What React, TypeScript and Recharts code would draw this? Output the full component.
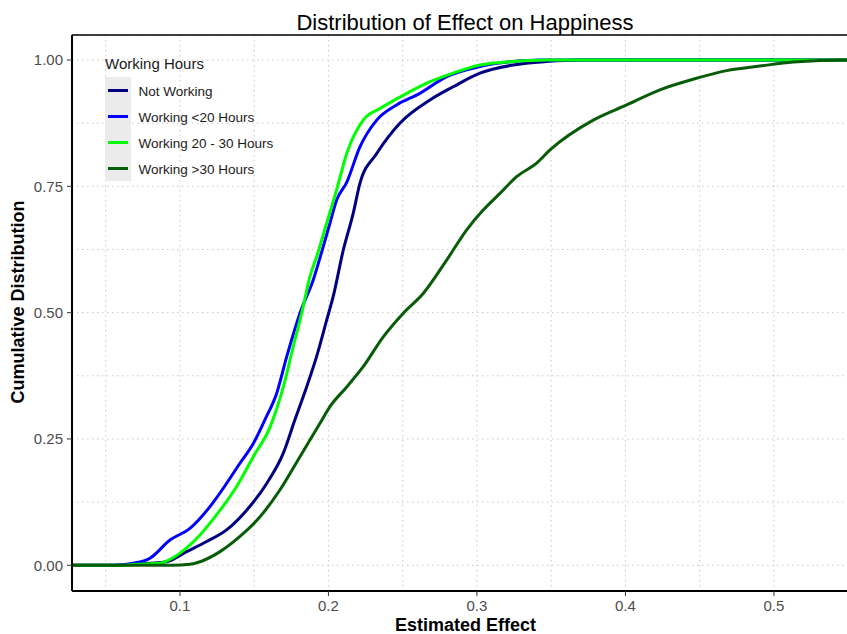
import {
  LineChart,
  Line,
  XAxis,
  YAxis,
  CartesianGrid,
  ReferenceLine,
  Customized,
} from "recharts";

const FONT = "'Liberation Sans', Arial, Helvetica, sans-serif";

// x ticks / grid positions
const xTicks = [0.1, 0.2, 0.3, 0.4, 0.5];
const xGridTicks = [0.05, 0.1, 0.15, 0.2, 0.25, 0.3, 0.35, 0.4, 0.45, 0.5, 0.55];
const yTicks = [0, 0.25, 0.5, 0.75, 1];
const yGridTicks = [0, 0.125, 0.25, 0.375, 0.5, 0.625, 0.75, 0.875, 1];

const xDomain = [0.0273, 0.5492];
const yDomain = [-0.0509, 1.0495];

// cumulative distributions
const notWorking = [
  { x: 0.02, y: 0 }, { x: 0.055, y: 0 }, { x: 0.07, y: 0.002 }, { x: 0.08, y: 0.004 },
  { x: 0.091, y: 0.007 }, { x: 0.1045, y: 0.027 }, { x: 0.118, y: 0.047 }, { x: 0.1314, y: 0.07 },
  { x: 0.1449, y: 0.109 }, { x: 0.1584, y: 0.162 }, { x: 0.1696, y: 0.222 }, { x: 0.1774, y: 0.288 },
  { x: 0.1853, y: 0.353 }, { x: 0.192, y: 0.413 }, { x: 0.1988, y: 0.485 }, { x: 0.2032, y: 0.532 },
  { x: 0.21, y: 0.624 }, { x: 0.2167, y: 0.697 }, { x: 0.2212, y: 0.756 }, { x: 0.2325, y: 0.815 },
  { x: 0.2481, y: 0.875 }, { x: 0.2684, y: 0.921 }, { x: 0.284, y: 0.947 }, { x: 0.302, y: 0.974 },
  { x: 0.3244, y: 0.99 }, { x: 0.3469, y: 0.997 }, { x: 0.3694, y: 1 }, { x: 0.56, y: 1 },
];

const under20 = [
  { x: 0.02, y: 0 }, { x: 0.055, y: 0 }, { x: 0.0686, y: 0.004 }, { x: 0.0798, y: 0.014 },
  { x: 0.0933, y: 0.05 }, { x: 0.1067, y: 0.073 }, { x: 0.1202, y: 0.116 }, { x: 0.1314, y: 0.162 },
  { x: 0.1404, y: 0.202 }, { x: 0.1494, y: 0.241 }, { x: 0.1572, y: 0.288 }, { x: 0.1651, y: 0.34 },
  { x: 0.1719, y: 0.413 }, { x: 0.1808, y: 0.499 }, { x: 0.1898, y: 0.565 }, { x: 0.1965, y: 0.631 },
  { x: 0.201, y: 0.677 }, { x: 0.2055, y: 0.723 }, { x: 0.2123, y: 0.758 }, { x: 0.2212, y: 0.828 },
  { x: 0.2325, y: 0.881 }, { x: 0.2459, y: 0.911 }, { x: 0.2616, y: 0.934 }, { x: 0.2796, y: 0.967 },
  { x: 0.302, y: 0.987 }, { x: 0.3244, y: 0.997 }, { x: 0.3424, y: 1 }, { x: 0.56, y: 1 },
];

const between20and30 = [
  { x: 0.02, y: 0 }, { x: 0.06, y: 0 }, { x: 0.07, y: 0.002 }, { x: 0.0865, y: 0.004 },
  { x: 0.0899, y: 0.007 }, { x: 0.1, y: 0.024 }, { x: 0.1135, y: 0.06 }, { x: 0.127, y: 0.109 },
  { x: 0.1382, y: 0.156 }, { x: 0.1494, y: 0.215 }, { x: 0.1606, y: 0.273 }, { x: 0.1696, y: 0.353 },
  { x: 0.1763, y: 0.433 }, { x: 0.182, y: 0.499 }, { x: 0.1875, y: 0.571 }, { x: 0.1921, y: 0.611 },
  { x: 0.1988, y: 0.677 }, { x: 0.2055, y: 0.743 }, { x: 0.2123, y: 0.815 }, { x: 0.2234, y: 0.881 },
  { x: 0.2347, y: 0.904 }, { x: 0.2527, y: 0.934 }, { x: 0.2684, y: 0.957 }, { x: 0.284, y: 0.974 },
  { x: 0.302, y: 0.99 }, { x: 0.3244, y: 0.997 }, { x: 0.3469, y: 1 }, { x: 0.56, y: 1 },
];

const over30 = [
  { x: 0.02, y: 0 }, { x: 0.095, y: 0 }, { x: 0.1067, y: 0.002 }, { x: 0.1135, y: 0.007 },
  { x: 0.127, y: 0.027 }, { x: 0.1404, y: 0.057 }, { x: 0.1539, y: 0.096 }, { x: 0.1673, y: 0.149 },
  { x: 0.1808, y: 0.215 }, { x: 0.1943, y: 0.281 }, { x: 0.201, y: 0.314 }, { x: 0.2123, y: 0.353 },
  { x: 0.2234, y: 0.393 }, { x: 0.2369, y: 0.452 }, { x: 0.2504, y: 0.499 }, { x: 0.2638, y: 0.538 },
  { x: 0.2796, y: 0.604 }, { x: 0.2931, y: 0.664 }, { x: 0.3042, y: 0.703 }, { x: 0.3155, y: 0.736 },
  { x: 0.3267, y: 0.769 }, { x: 0.3402, y: 0.796 }, { x: 0.3492, y: 0.822 }, { x: 0.3783, y: 0.881 },
  { x: 0.4008, y: 0.911 }, { x: 0.4232, y: 0.941 }, { x: 0.4457, y: 0.962 }, { x: 0.4681, y: 0.979 },
  { x: 0.4906, y: 0.988 }, { x: 0.513, y: 0.996 }, { x: 0.549, y: 1 }, { x: 0.56, y: 1 },
];

const series = [
  { name: "Not Working", data: notWorking, color: "#000080" },
  { name: "Working <20 Hours", data: under20, color: "#0000ff" },
  { name: "Working 20 - 30 Hours", data: between20and30, color: "#00ff00" },
  { name: "Working >30 Hours", data: over30, color: "#075c07" },
];

const tickStyle = { fill: "#4d4d4d", fontSize: 15, fontFamily: FONT };

// legend drawn as plain html on top of the chart so it takes no plot space
const LegendBox = () => (
  <div
    style={{
      position: "absolute",
      left: 105,
      top: 55,
      fontFamily: FONT,
      color: "#1a1a1a",
      pointerEvents: "none",
    }}
  >
    <div style={{ fontSize: 15, lineHeight: "17px", marginBottom: 5 }}>
      Working Hours
    </div>
    {series.map((s) => (
      <div
        key={s.name}
        style={{ display: "flex", alignItems: "center", height: 26.1 }}
      >
        <div
          style={{
            width: 26,
            height: "100%",
            background: "#ebebeb",
            display: "flex",
            alignItems: "center",
            justifyContent: "center",
          }}
        >
          <div style={{ width: 20, height: 3, background: s.color }} />
        </div>
        <span
          style={{
            fontSize: 13.5,
            marginLeft: 7.5,
            paddingTop: 2,
            whiteSpace: "nowrap",
          }}
        >
          {s.name}
        </span>
      </div>
    ))}
  </div>
);

const Labels = () => (
  <g fontFamily={FONT}>
    <text x={465} y={30} textAnchor="middle" fontSize={22} fill="#000">
      Distribution of Effect on Happiness
    </text>
    <text x={465.5} y={631} textAnchor="middle" fontSize={18} fontWeight="bold" fill="#000">
      Estimated Effect
    </text>
    <text
      x={24}
      y={302}
      textAnchor="middle"
      fontSize={18}
      fontWeight="bold"
      fill="#000"
      transform="rotate(-90 24 302)"
    >
      Cumulative Distribution
    </text>
  </g>
);

// vertical grid (major + minor) through the x scale
const verticalGrid = ({ xAxis, offset }: any) => {
  if (xAxis && typeof xAxis.scale === "function") {
    return xGridTicks.map((t) => xAxis.scale(t));
  }
  const [d0, d1] = xDomain;
  return xGridTicks.map((t) => offset.left + ((t - d0) / (d1 - d0)) * offset.width);
};

const App = () => {
  return (
    <div style={{ position: "absolute", left: 0, top: 0, background: "#fff" }}>
      <LineChart
        width={847}
        height={634}
        margin={{ top: 35, right: 0, bottom: 0, left: 0 }}
      >
        <CartesianGrid
          yAxisId="grid"
          stroke="#c8c8c8"
          strokeDasharray="1.5 3.5"
          verticalCoordinatesGenerator={verticalGrid}
        />
        <YAxis
          yAxisId="grid"
          type="number"
          domain={yDomain}
          ticks={yGridTicks}
          allowDataOverflow
          hide
        />
        <XAxis
          dataKey="x"
          type="number"
          domain={xDomain}
          ticks={xTicks}
          allowDataOverflow
          height={43}
          tick={tickStyle}
          tickSize={5}
          tickMargin={4}
          tickLine={{ stroke: "#333" }}
          axisLine={{ stroke: "#000", strokeWidth: 2 }}
        />
        <YAxis
          type="number"
          domain={yDomain}
          ticks={yTicks}
          allowDataOverflow
          width={72}
          tick={tickStyle}
          tickSize={5}
          tickMargin={4}
          tickLine={{ stroke: "#333" }}
          axisLine={{ stroke: "#000", strokeWidth: 2 }}
          tickFormatter={(v: number) => v.toFixed(2)}
        />
        <ReferenceLine y={yDomain[1]} stroke="#000" strokeWidth={1.5} ifOverflow="visible" />
        {series.map((s) => (
          <Line
            key={s.name}
            name={s.name}
            data={s.data}
            dataKey="y"
            type="monotone"
            stroke={s.color}
            strokeWidth={3}
            dot={false}
            activeDot={false}
            isAnimationActive={false}
          />
        ))}
        <Customized component={Labels} />
      </LineChart>
      <LegendBox />
    </div>
  );
};

export default App;
